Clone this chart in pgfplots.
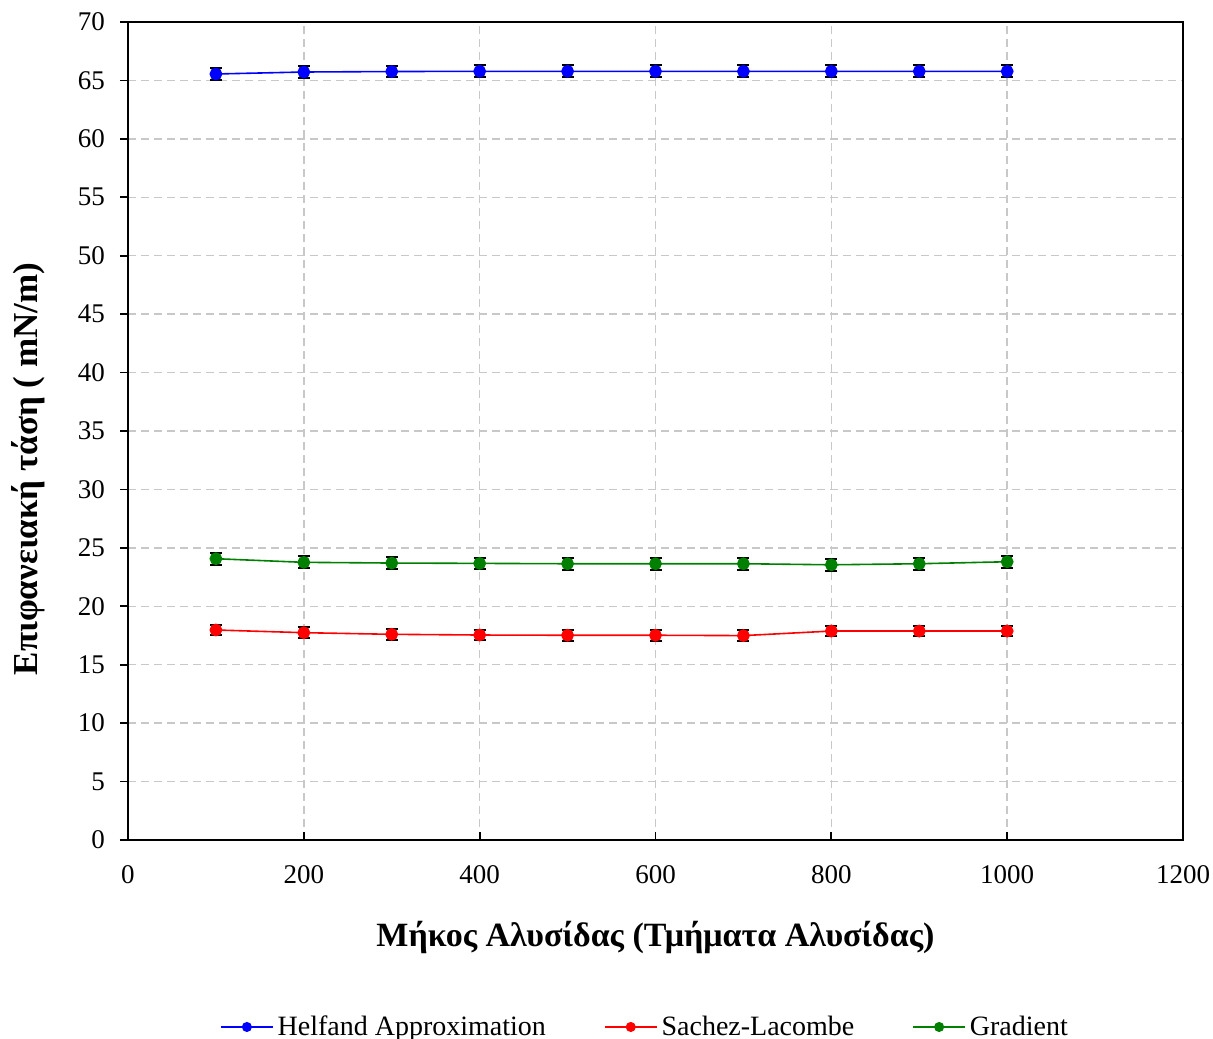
\documentclass[border=0pt]{standalone}
\usepackage{pgfplots}
\pgfplotsset{compat=1.18}
\usepackage{pgfplotstable}
\usepackage{fontspec}
\setmainfont{Liberation Serif}

\definecolor{gridgray}{RGB}{200,200,200}
\definecolor{hblue}{RGB}{0,0,255}
\definecolor{sred}{RGB}{255,0,0}
\definecolor{ggreen}{RGB}{0,128,0}

% chain length, surface tension, error
\pgfplotstableread{
x y e
100 65.55 0.5
200 65.72 0.5
300 65.76 0.5
400 65.78 0.5
500 65.78 0.5
600 65.78 0.5
700 65.78 0.5
800 65.78 0.5
900 65.78 0.5
1000 65.78 0.5
}\helfand

\pgfplotstableread{
x y e
100 17.97 0.45
200 17.74 0.45
300 17.60 0.45
400 17.54 0.45
500 17.52 0.45
600 17.52 0.45
700 17.49 0.45
800 17.88 0.45
900 17.88 0.45
1000 17.88 0.45
}\sanchez

\pgfplotstableread{
x y e
100 24.07 0.5
200 23.76 0.5
300 23.70 0.5
400 23.67 0.5
500 23.64 0.5
600 23.64 0.5
700 23.64 0.5
800 23.55 0.5
900 23.64 0.5
1000 23.81 0.5
}\gradient

\begin{document}
\begin{tikzpicture}
\begin{axis}[
  scale only axis,
  width=527.5pt, height=409pt,
  xmin=0, xmax=1200, ymin=0, ymax=70,
  xtick={0,200,...,1200},
  ytick={0,5,...,70},
  tick pos=left,
  tick align=inside,
  major tick length=4pt,
  y tick style={xshift=-4pt, black, line width=0.9pt},
  x tick style={black, line width=0.9pt},
  axis line style={line width=1.1pt, black},
  grid=major,
  major grid style={gridgray, dash pattern=on 4pt off 2.5pt, line width=0.7pt},
  /pgf/number format/assume math mode=true,
  /pgf/number format/1000 sep={},
  ticklabel style={font=\fontsize{13.5}{15}\selectfont},
  yticklabel style={xshift=-8pt},
  xticklabel style={yshift=-9pt},
  every axis x label/.style={at={(axis description cs:0.5,-0.1198)}, anchor=center, font=\bfseries\fontsize{17}{20}\selectfont},
  every axis y label/.style={at={(axis description cs:-0.0948,0.4535)}, anchor=center, rotate=90, font=\bfseries\fontsize{17.5}{20}\selectfont},
  xlabel={Μήκος Αλυσίδας (Τμήματα Αλυσίδας)},
  ylabel={Επιφανειακή τάση ( mN/m)},
  legend columns=3,
  legend style={at={(axis description cs:0.491,-0.2286)}, anchor=center, draw=none,
    font=\fontsize{14}{16}\selectfont, /tikz/every even column/.append style={column sep=27pt}},
  legend cell align=left,
  legend image code/.code={%
    \draw[#1, mark=none] (0pt,0pt) -- (26pt,0pt);
    \draw[#1, only marks, mark size=2.1pt] plot coordinates {(13pt,0pt)};},
  error bars/error bar style={black, line width=0.9pt},
  error bars/error mark options={black, mark size=3pt, line width=1pt, rotate=90},
]
\addplot+[hblue, line width=0.8pt, mark=*, mark size=2.8pt, mark options={fill=hblue, draw=hblue},
  error bars/.cd, y dir=both, y explicit]
  table[x=x, y=y, y error=e] {\helfand};
\addlegendentry{Helfand Approximation}
\addplot+[sred, line width=0.8pt, mark=*, mark size=2.8pt, mark options={fill=sred, draw=sred},
  error bars/.cd, y dir=both, y explicit]
  table[x=x, y=y, y error=e] {\sanchez};
\addlegendentry{Sachez-Lacombe}
\addplot+[ggreen, line width=0.8pt, mark=*, mark size=2.8pt, mark options={fill=ggreen, draw=ggreen},
  error bars/.cd, y dir=both, y explicit]
  table[x=x, y=y, y error=e] {\gradient};
\addlegendentry{Gradient}
\coordinate (bl) at (rel axis cs:0,0);
\coordinate (tr) at (rel axis cs:1,1);
\end{axis}
\pgfresetboundingbox
\path ([shift={(-64pt,-99.5pt)}]bl) rectangle ([shift={(15pt,11pt)}]tr);
\end{tikzpicture}
\end{document}
